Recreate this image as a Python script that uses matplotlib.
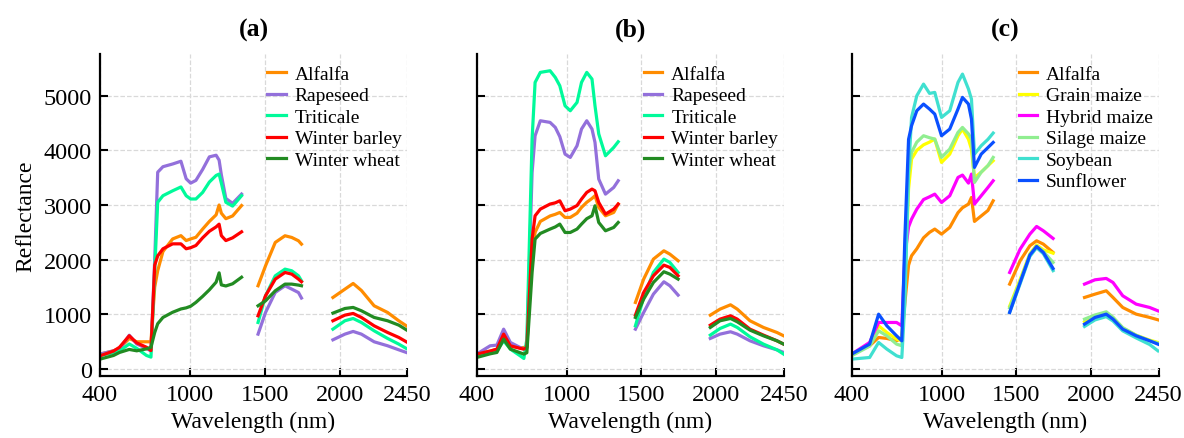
import matplotlib
matplotlib.use("Agg")
import matplotlib.pyplot as plt

plt.rcParams['font.family'] = ['Liberation Serif', 'DejaVu Serif']

# ---- panel (a) ----
a_wl_vnir = [400, 490, 530, 595, 645, 710, 740, 765, 785, 820, 885, 940, 975, 1005,
             1040, 1085, 1130, 1175, 1195, 1210, 1240, 1285, 1345]
a_wl_swir1 = [1455, 1505, 1570, 1635, 1680, 1725, 1745]
a_wl_swir2 = [1955, 2035, 2090, 2145, 2230, 2320, 2395, 2445]

a_vnir = {
    "Alfalfa": [275, 335, 380, 560, 500, 500, 500, 1500, 1800, 2150, 2380, 2440, 2350, 2380,
                2410, 2560, 2700, 2820, 3000, 2850, 2750, 2800, 2990],
    "Rapeseed": [275, 335, 365, 620, 460, 380, 330, 2000, 3600, 3700, 3750, 3800, 3480, 3400,
                 3450, 3650, 3880, 3910, 3820, 3550, 3120, 3030, 3200],
    "Triticale": [250, 300, 330, 460, 380, 250, 220, 1800, 3050, 3170, 3260, 3330, 3170, 3110,
                  3110, 3230, 3420, 3540, 3565, 3400, 3050, 2980, 3170],
    "Winter barley": [244, 330, 400, 610, 480, 400, 340, 1900, 2070, 2200, 2290, 2290, 2200, 2220,
                      2260, 2400, 2520, 2600, 2650, 2440, 2350, 2400, 2510],
    "Winter wheat": [183, 250, 305, 360, 335, 370, 400, 670, 830, 945, 1040, 1100, 1120, 1150,
                     1220, 1330, 1450, 1590, 1760, 1540, 1520, 1560, 1680],
}
a_swir1 = {
    "Alfalfa": [1524, 1889, 2316, 2438, 2407, 2346, 2285],
    "Rapeseed": [640, 1036, 1402, 1524, 1463, 1400, 1300],
    "Triticale": [853, 1341, 1706, 1828, 1798, 1706, 1615],
    "Winter barley": [975, 1341, 1645, 1767, 1737, 1645, 1597],
    "Winter wheat": [1158, 1249, 1432, 1554, 1554, 1536, 1524],
}
a_swir2 = {
    "Alfalfa": [1310, 1462, 1566, 1438, 1158, 1036, 883, 792],
    "Rapeseed": [536, 640, 689, 640, 500, 427, 353, 305],
    "Triticale": [731, 884, 926, 853, 701, 561, 457, 378],
    "Winter barley": [884, 987, 1018, 945, 792, 670, 579, 500],
    "Winter wheat": [1024, 1109, 1128, 1067, 945, 884, 804, 719],
}

# ---- panel (b) ----
b_wl_vnir = [400, 490, 535, 580, 625, 690, 715, 735, 770, 790, 825, 890, 925, 955, 990,
             1025, 1070, 1100, 1135, 1170, 1190, 1215, 1260, 1315, 1345]
b_wl_swir1 = [1460, 1515, 1580, 1650, 1690, 1745]
b_wl_swir2 = [1960, 2025, 2095, 2140, 2225, 2315, 2405, 2450]

b_vnir = {
    "Alfalfa": [275, 330, 360, 579, 420, 390, 396, 420, 2072, 2500, 2700, 2800, 2830, 2864, 2773,
                2773, 2850, 2956, 3050, 3120, 3169, 2956, 2803, 2864, 3017],
    "Rapeseed": [275, 427, 439, 731, 488, 396, 366, 380, 3595, 4266, 4540, 4510, 4418, 4250, 3930,
                 3870, 4083, 4388, 4540, 4388, 4144, 3474, 3199, 3321, 3443],
    "Triticale": [244, 300, 335, 518, 366, 244, 195, 548, 4205, 5241, 5424, 5454, 5332, 5180, 4814,
                  4723, 4875, 5241, 5424, 5302, 4814, 4300, 3900, 4052, 4156],
    "Winter barley": [275, 330, 366, 640, 427, 380, 366, 400, 2377, 2803, 2925, 3017, 3040, 3077, 2895,
                      2925, 2990, 3108, 3230, 3291, 3260, 3047, 2834, 2925, 3017],
    "Winter wheat": [213, 280, 305, 548, 366, 300, 275, 300, 1767, 2377, 2480, 2560, 2600, 2651, 2498,
                     2498, 2560, 2651, 2750, 2803, 2986, 2681, 2529, 2590, 2681],
}
b_swir1 = {
    "Alfalfa": [1219, 1645, 2011, 2163, 2102, 1981],
    "Rapeseed": [731, 1036, 1371, 1597, 1524, 1353],
    "Triticale": [792, 1310, 1767, 2011, 1950, 1767],
    "Winter barley": [987, 1402, 1706, 1901, 1859, 1706],
    "Winter wheat": [945, 1280, 1584, 1780, 1737, 1645],
}
b_swir2 = {
    "Alfalfa": [987, 1097, 1176, 1097, 884, 762, 670, 609],
    "Rapeseed": [561, 640, 683, 640, 518, 427, 353, 305],
    "Triticale": [622, 743, 823, 762, 591, 457, 353, 274],
    "Winter barley": [804, 914, 975, 914, 731, 622, 518, 457],
    "Winter wheat": [762, 884, 926, 865, 713, 609, 518, 457],
}

# ---- panel (c) ----
c_wl_vnir = [400, 520, 580, 635, 700, 735, 755, 780, 800, 835, 880, 920, 955, 1000, 1055,
             1110, 1140, 1180, 1200, 1220, 1265, 1310, 1345]
c_wl_swir1 = [1455, 1525, 1590, 1635, 1680, 1745]
c_wl_swir2 = [1955, 2025, 2100, 2145, 2210, 2300, 2390, 2445]

c_vnir = {
    "Alfalfa": [275, 427, 579, 561, 518, 579, 1200, 1900, 2072, 2200, 2400, 2500, 2560, 2468, 2590,
                2860, 2950, 3017, 3138, 2700, 2800, 2900, 3077],
    "Grain maize": [275, 457, 792, 670, 548, 518, 1500, 3291, 3839, 4000, 4100, 4150, 4205, 3778, 3930,
                    4266, 4388, 4200, 4022, 3500, 3600, 3720, 3809],
    "Hybrid maize": [275, 488, 853, 853, 853, 792, 2072, 2600, 2742, 2925, 3100, 3150, 3199, 3047, 3169,
                     3504, 3547, 3400, 3565, 3017, 3169, 3321, 3443],
    "Silage maize": [244, 420, 701, 609, 457, 427, 1500, 3595, 3961, 4150, 4266, 4230, 4205, 3870, 4022,
                     4327, 4418, 4300, 4205, 3413, 3600, 3720, 3870],
    "Soybean": [183, 213, 488, 366, 244, 213, 1200, 3600, 4601, 4997, 5210, 5040, 5058, 4601, 4723,
                5241, 5393, 5119, 4936, 3930, 4083, 4200, 4315],
    "Sunflower": [275, 457, 1005, 792, 609, 518, 2377, 4200, 4449, 4723, 4845, 4753, 4662, 4266, 4388,
                  4753, 4967, 4845, 4570, 3687, 3930, 4050, 4144],
}
c_swir1 = {
    "Alfalfa": [1554, 1981, 2255, 2346, 2285, 2133],
    "Grain maize": [1150, 1640, 2110, 2270, 2180, 2120],
    "Hybrid maize": [1767, 2194, 2468, 2608, 2529, 2389],
    "Silage maize": [1120, 1610, 2090, 2250, 2150, 1950],
    "Soybean": [1036, 1560, 2060, 2220, 2110, 1800],
    "Sunflower": [1036, 1584, 2084, 2242, 2133, 1840],
}
c_swir2 = {
    "Alfalfa": [1310, 1371, 1432, 1310, 1127, 1005, 945, 902],
    "Grain maize": [865, 960, 1024, 940, 750, 620, 530, 488],
    "Hybrid maize": [1554, 1633, 1658, 1584, 1341, 1188, 1127, 1066],
    "Silage maize": [914, 990, 1048, 950, 760, 620, 520, 475],
    "Soybean": [780, 900, 960, 880, 700, 570, 450, 335],
    "Sunflower": [823, 945, 1005, 914, 731, 609, 518, 457],
}

colors = {
    "Alfalfa": "#FF8C00",
    "Rapeseed": "#9370DB",
    "Triticale": "#00FA9A",
    "Winter barley": "#FF0000",
    "Winter wheat": "#228B22",
    "Grain maize": "#FFFF00",
    "Hybrid maize": "#FF00FF",
    "Silage maize": "#90EE90",
    "Soybean": "#40E0D0",
    "Sunflower": "#0A50FF",
}

panels = [
    ("(a)", (a_wl_vnir, a_wl_swir1, a_wl_swir2), (a_vnir, a_swir1, a_swir2)),
    ("(b)", (b_wl_vnir, b_wl_swir1, b_wl_swir2), (b_vnir, b_swir1, b_swir2)),
    ("(c)", (c_wl_vnir, c_wl_swir1, c_wl_swir2), (c_vnir, c_swir1, c_swir2)),
]

fig = plt.figure(figsize=(11.84, 4.39), dpi=100)
lefts = [0.0845, 0.4026, 0.7193]
W, B, H = 0.2593, 0.1419, 0.7328

for i, (title, wls, segs) in enumerate(panels):
    ax = fig.add_axes([lefts[i], B, W, H])
    for name in segs[0]:
        for k in range(3):
            ax.plot(wls[k], segs[k][name], color=colors[name], lw=2.3,
                    label=name if k == 0 else None)
    ax.set_xlim(400, 2450)
    ax.set_ylim(-120, 5760)
    ax.set_xticks([400, 1000, 1500, 2000, 2450])
    ax.set_yticks([0, 1000, 2000, 3000, 4000, 5000])
    ax.grid(True, ls='--', color='#d9d9d9', lw=0.9)
    ax.set_axisbelow(True)
    for s in ['top', 'right']:
        ax.spines[s].set_visible(False)
    for s in ['left', 'bottom']:
        ax.spines[s].set_linewidth(1.6)
    ax.tick_params(direction='in', length=6, width=1.5, labelsize=17.5, pad=6)
    if i > 0:
        ax.set_yticklabels([])
    else:
        ax.set_ylabel("Reflectance", fontsize=17, labelpad=5)
    ax.set_xlabel("Wavelength (nm)", fontsize=17, labelpad=4)
    ax.set_title(title, fontsize=18.5, fontweight='bold', pad=13)
    ax.legend(loc='upper left', bbox_to_anchor=(0.545, 0.965), frameon=False,
              fontsize=14, handlelength=0.95, handletextpad=0.45, labelspacing=0.2,
              borderpad=0, borderaxespad=0)

fig.savefig("out.png", dpi=100)
